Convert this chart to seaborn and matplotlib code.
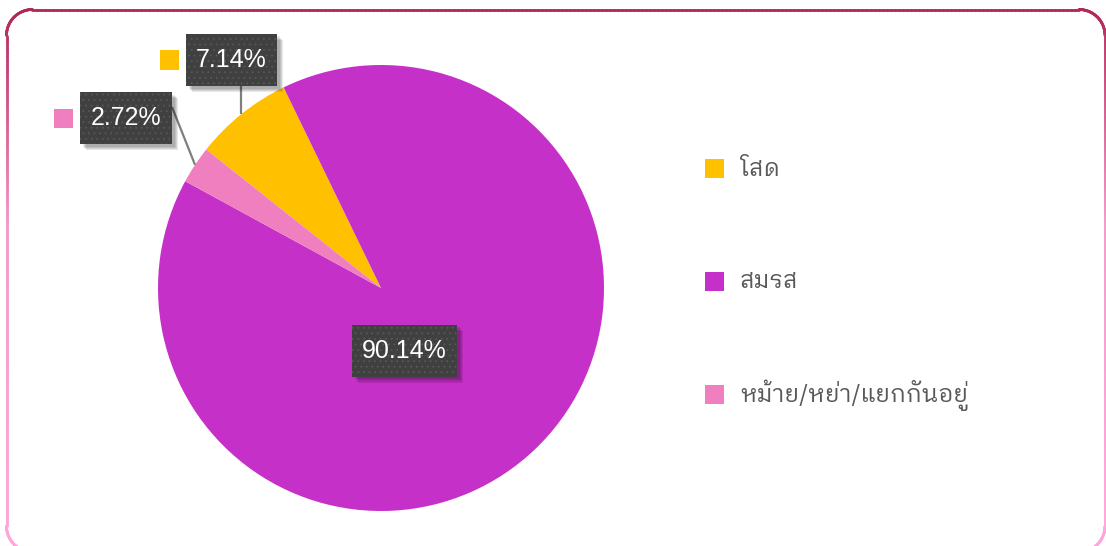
import matplotlib
matplotlib.use("Agg")
import numpy as np
import matplotlib.pyplot as plt
import seaborn as sns
from matplotlib.patches import Rectangle
from matplotlib.collections import LineCollection
from matplotlib.colors import LinearSegmentedColormap
import matplotlib.patheffects as pe

# ---- data -------------------------------------------------------------
categories = ["โสด", "สมรส", "หม้าย/หย่า/แยกกันอยู่"]
shares = [7.14, 90.14, 2.72]
slice_colors = ["#FFC000", "#C530C8", "#F07FBF"]

sns.set_theme(style="white")
plt.rcParams["font.family"] = ["IBM Plex Sans Thai Looped", "Noto Sans Thai Looped",
                               "DejaVu Sans"]
plt.rcParams["hatch.linewidth"] = 0.6

W, H, DPI = 1106, 546, 100
fig = plt.figure(figsize=(W / DPI, H / DPI), dpi=DPI)
fig.patch.set_facecolor("white")

# overlay axes in pixel units (frame + legend)
frame = fig.add_axes([0, 0, 1, 1])
frame.set_xlim(0, W)
frame.set_ylim(H, 0)
frame.axis("off")

# pie axes: centre (381, 288), radius 223 px
CX, CY, R = 381, 288, 223
ax = fig.add_axes([(CX - R) / W, (H - CY - R) / H, 2 * R / W, 2 * R / H])


def px(x, y):
    """pixel position -> pie data coordinates"""
    return (x - CX) / R, (CY - y) / R


wedges, _ = ax.pie(shares, colors=slice_colors, startangle=141.6,
                   counterclock=False, radius=1,
                   wedgeprops=dict(linewidth=0))
ax.set_xlim(-1, 1)
ax.set_ylim(-1, 1)
ax.axis("off")

# ---- data labels ------------------------------------------------------
label_centres = [px(231.5, 60), px(404.5, 350.5), px(126, 118)]
show_key = [True, False, True]
box_w = [91, 105, 92]   # px
box_h = 52              # px

shadow = [pe.SimplePatchShadow(offset=(o, -o), shadow_rgbFace="black",
                               alpha=0.09, hatch=None) for o in (4.5, 3.6, 2.7, 1.8)]

for i, (w, v) in enumerate(zip(wedges, shares)):
    mid = np.deg2rad((w.theta1 + w.theta2) / 2)
    rim = (np.cos(mid), np.sin(mid))
    lx, ly = label_centres[i]
    bw, bh = box_w[i] / R, box_h / R
    box = Rectangle((lx - bw / 2, ly - bh / 2), bw, bh, facecolor="#404040",
                    edgecolor="#585858", lw=0, hatch="...", clip_on=False, zorder=6)
    box.set_path_effects(shadow + [pe.Normal()])
    ax.add_patch(box)
    ax.text(lx, ly, f"{v:.2f}%", ha="center", va="center",
            fontsize=18, family="Liberation Sans", color="white", zorder=7)
    if show_key[i]:
        # leader line from the box to the middle of the slice rim
        if i == 0:
            start = (rim[0], ly - bh / 2)
        else:
            start = (lx + bw / 2, ly + 11 / R)
        ax.plot([start[0], rim[0]], [start[1], rim[1]], color="#7F7F7F",
                lw=1.6, zorder=4, clip_on=False, solid_capstyle="butt")
        # colour key to the left of the box
        s = 19 / R
        kx = lx - bw / 2 - 7 / R - s
        ax.add_patch(Rectangle((kx, ly - s / 2), s, s, facecolor=w.get_facecolor(),
                               lw=0, clip_on=False, zorder=5))

# ---- legend ------------------------------------------------------------
for i, (cat, col) in enumerate(zip(categories, slice_colors)):
    yy = 168 + 113 * i
    frame.add_patch(Rectangle((705, yy - 9.5), 19, 19, facecolor=col, lw=0))
    frame.text(740, yy + 1, cat, ha="left", va="center", fontsize=17,
               fontweight="normal", color="#595959")

# ---- rounded frame with vertical colour gradient ------------------------
def rounded_rect(x0, y0, x1, y1, r, n=40):
    pts = []
    corners = [(x1 - r, y0 + r, -90, 0), (x1 - r, y1 - r, 0, 90),
               (x0 + r, y1 - r, 90, 180), (x0 + r, y0 + r, 180, 270)]
    for cx, cy, a0, a1 in corners:
        a = np.deg2rad(np.linspace(a0, a1, n))
        pts.extend(zip(cx + r * np.cos(a), cy + r * np.sin(a)))
    pts.append(pts[0])
    return np.array(pts)


pts = rounded_rect(6.5, 9.5, 1105, 552, 26)
dense = []
for a, b in zip(pts[:-1], pts[1:]):
    k = max(2, int(np.hypot(*(b - a)) // 4))
    dense.extend(a + (b - a) * t for t in np.linspace(0, 1, k, endpoint=False))
dense.append(pts[-1])
dense = np.array(dense)
segs = np.stack([dense[:-1], dense[1:]], axis=1)
ymid = segs[:, :, 1].mean(axis=1)
cmap = LinearSegmentedColormap.from_list(
    "frame", [(0, "#B02858"), (0.12, "#C8487A"), (0.4, "#F09AC8"), (1, "#FFA6DC")])
lc = LineCollection(segs, colors=cmap(np.clip((ymid - 9) / 537, 0, 1)),
                    linewidths=2.0, capstyle="round")
frame.add_collection(lc)

fig.savefig("out.png", dpi=DPI, facecolor="white")
